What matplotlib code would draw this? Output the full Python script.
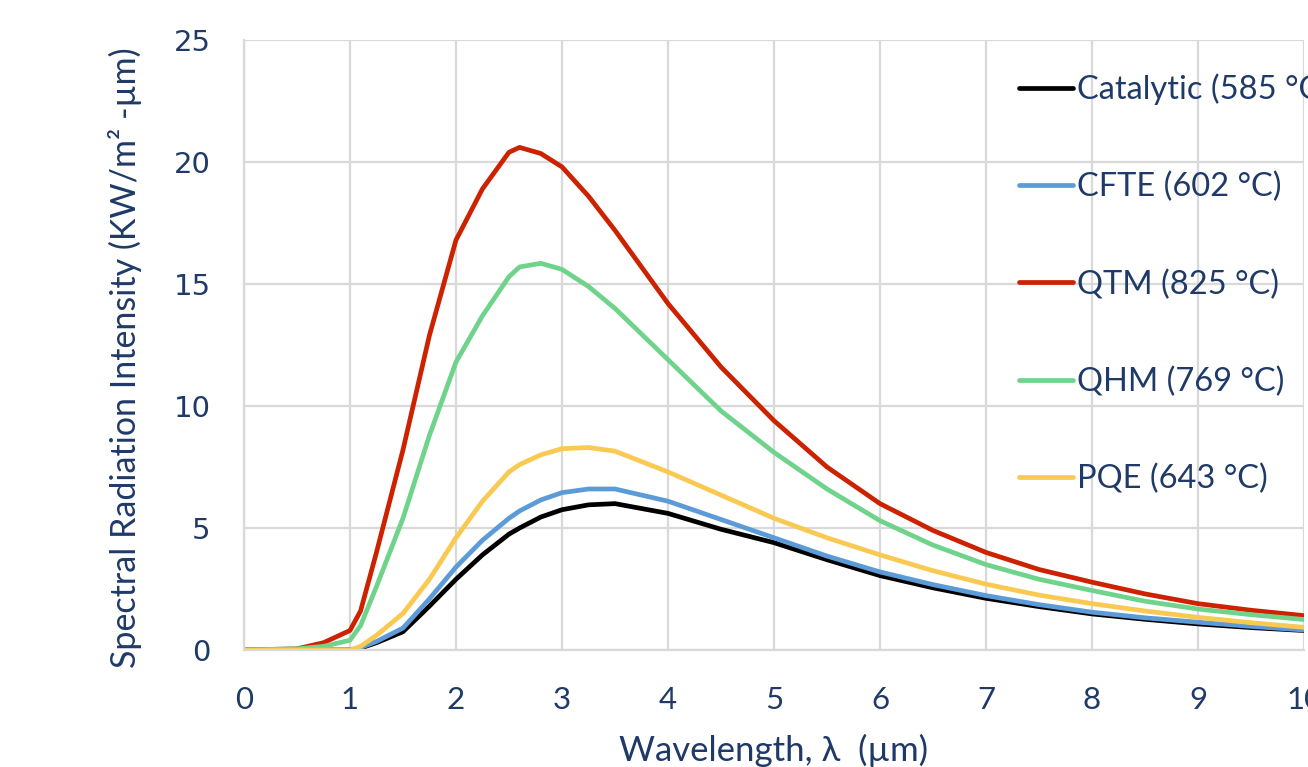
import matplotlib
matplotlib.use("Agg")
import matplotlib.pyplot as plt

# wavelength grid (um) and values
wavelength = [0, 0.5, 0.75, 1.0, 1.1, 1.25, 1.5, 1.75, 2.0, 2.25, 2.5, 2.6, 2.8,
              3.0, 3.25, 3.5, 4.0, 4.5, 5.0, 5.5, 6.0, 6.5, 7.0, 7.5, 8.0, 8.5,
              9.0, 9.5, 10.0]

catalytic = [0, 0, 0, 0, 0.08, 0.3, 0.75, 1.8, 2.9, 3.9, 4.75, 5.0, 5.45,
             5.75, 5.95, 6.0, 5.6, 4.95, 4.4, 3.7, 3.05, 2.55, 2.12, 1.78, 1.48, 1.26,
             1.07, 0.92, 0.8]
cfte = [0, 0, 0, 0, 0.1, 0.35, 0.9, 2.1, 3.4, 4.5, 5.4, 5.7, 6.15,
        6.45, 6.6, 6.6, 6.1, 5.35, 4.6, 3.85, 3.2, 2.68, 2.23, 1.86, 1.55, 1.32,
        1.14, 0.97, 0.82]
qtm = [0, 0.05, 0.3, 0.8, 1.6, 4.0, 8.2, 12.9, 16.8, 18.9, 20.4, 20.6, 20.35,
       19.8, 18.6, 17.2, 14.2, 11.6, 9.4, 7.5, 6.0, 4.9, 4.0, 3.3, 2.78, 2.3,
       1.9, 1.63, 1.41]
qhm = [0, 0.05, 0.15, 0.4, 1.0, 2.6, 5.4, 8.8, 11.8, 13.7, 15.3, 15.7, 15.85,
       15.6, 14.9, 14.0, 11.9, 9.8, 8.1, 6.6, 5.3, 4.3, 3.5, 2.9, 2.44, 2.0,
       1.68, 1.45, 1.25]
pqe = [0, 0, 0, 0, 0.15, 0.6, 1.5, 2.9, 4.6, 6.1, 7.3, 7.6, 8.0,
       8.25, 8.3, 8.15, 7.3, 6.35, 5.4, 4.6, 3.9, 3.25, 2.7, 2.25, 1.9, 1.6,
       1.34, 1.12, 0.93]

labels = ['Catalytic (585 °C)', 'CFTE (602 °C)', 'QTM (825 °C)',
          'QHM (769 °C)', 'PQE (643 °C)']
series = [catalytic, cfte, qtm, qhm, pqe]
colors = ['#000000', '#5B9BD8', '#CC2200', '#6FD38B', '#F9C952']

txt = '#1F3A68'
plt.rcParams['font.family'] = ['Lato', 'DejaVu Sans']

fig = plt.figure(figsize=(13.08, 7.67), dpi=100)
ax = fig.add_axes([0.1865, 0.1525, 0.8105, 0.7953])

for y, lab, c in zip(series, labels, colors):
    ax.plot(wavelength, y, color=c, lw=3.4, label=lab,
            solid_capstyle='round', solid_joinstyle='round')

ax.set_xlim(0, 10)
ax.set_ylim(0, 25)
ax.set_xticks(range(0, 11))
ax.set_yticks(range(0, 26, 5))
ax.grid(True, color='#D9D9D9', lw=1.6)
ax.set_axisbelow(True)
for s in ['top', 'right']:
    ax.spines[s].set_visible(False)
for s in ['left', 'bottom']:
    ax.spines[s].set_color('#D9D9D9')
    ax.spines[s].set_linewidth(1.6)

ax.tick_params(axis='both', length=0, labelcolor=txt)
ax.tick_params(axis='x', pad=26, labelsize=22.5)
ax.tick_params(axis='y', pad=24, labelsize=21)
for t in ax.get_yticklabels():
    t.set_family('DejaVu Sans')

ax.set_xlabel('Wavelength, λ  (µm)', color=txt, fontsize=25, labelpad=14)
ax.set_ylabel('Spectral Radiation Intensity (KW/m² -µm)', color=txt,
              fontsize=24.5, va='center')
ax.yaxis.set_label_coords(-0.112, 0.479)

leg = ax.legend(loc='upper left', bbox_to_anchor=(0.731, 0.945), frameon=False,
                fontsize=23.5, labelspacing=2.05, handlelength=1.65,
                handletextpad=0.12, borderpad=0, borderaxespad=0)
for t in leg.get_texts():
    t.set_color(txt)

fig.savefig('out.png', dpi=100)
